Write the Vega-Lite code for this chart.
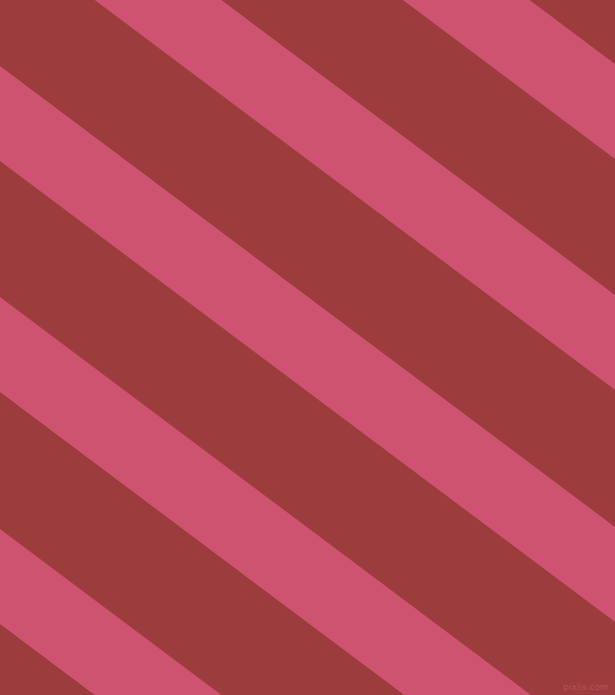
{
  "$schema": "https://vega.github.io/schema/vega-lite/v6.json",
  "description": "Diagonal stripes, pink on dark red",
  "autosize": {"type": "fit", "contains": "padding"},
  "width": 615,
  "height": 695,
  "padding": 0,
  "background": "#9C3C3D",
  "datasets": {
    "stripes": [
      {"stripe": "a", "x": 0, "top": -397, "bottom": -302},
      {"stripe": "a", "x": 615, "top": 64, "bottom": 159},
      {"stripe": "b", "x": 0, "top": -166, "bottom": -71},
      {"stripe": "b", "x": 615, "top": 295, "bottom": 390},
      {"stripe": "c", "x": 0, "top": 66, "bottom": 161},
      {"stripe": "c", "x": 615, "top": 527, "bottom": 622},
      {"stripe": "d", "x": 0, "top": 297, "bottom": 392},
      {"stripe": "d", "x": 615, "top": 758, "bottom": 853},
      {"stripe": "e", "x": 0, "top": 529, "bottom": 624},
      {"stripe": "e", "x": 615, "top": 990, "bottom": 1085}
    ],
    "mark": [
      {"label": "pixlis.com", "x": 586, "y": 687}
    ]
  },
  "layer": [
    {
      "data": {"name": "stripes"},
      "mark": {"type": "area", "color": "#CD5370", "clip": true, "opacity": 1},
      "encoding": {
        "x": {"field": "x", "type": "quantitative", "scale": {"domain": [0, 615], "nice": false, "zero": false}, "axis": null},
        "y": {"field": "top", "type": "quantitative", "scale": {"domain": [0, 695], "nice": false, "zero": false, "reverse": true}, "axis": null},
        "y2": {"field": "bottom"},
        "detail": {"field": "stripe", "type": "nominal"}
      }
    },
    {
      "data": {"name": "mark"},
      "mark": {"type": "text", "font": "DejaVu Sans", "fontSize": 9, "color": "#B8505E", "align": "center", "baseline": "middle"},
      "encoding": {
        "x": {"field": "x", "type": "quantitative"},
        "y": {"field": "y", "type": "quantitative"},
        "text": {"field": "label"}
      }
    }
  ],
  "config": {
    "view": {"stroke": null}
  }
}
